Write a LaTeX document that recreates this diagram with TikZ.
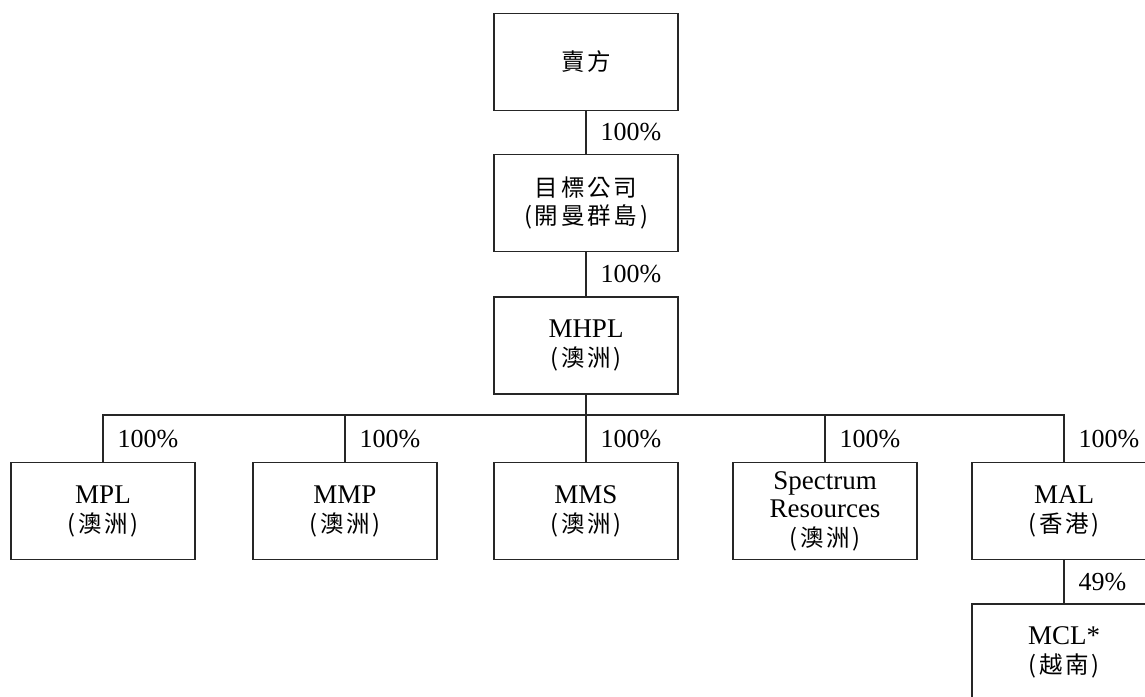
\documentclass[tikz,border=0pt]{standalone}
\usepackage{fontspec}
\setmainfont{Liberation Serif}
\newfontfamily\cjk[LetterSpace=12]{Noto Sans CJK TC}
\newcommand\zh[1]{{\cjk\fontsize{23.5}{28.5}\selectfont #1}}
\begin{document}
\begin{tikzpicture}[x=1pt,y=-1pt,
  box/.style={draw=black!85,line width=1.1pt,minimum width=184pt,minimum height=97pt,inner sep=0pt,align=center,
    font=\fontsize{27}{28.5}\selectfont},
  conn/.style={draw=black!85,line width=1.1pt},
  pct/.style={anchor=west,inner sep=0pt,xshift=14pt,font=\fontsize{26}{28.5}\selectfont}]
\useasboundingbox (0,0) rectangle (1145,696);
\clip (0,0) rectangle (1145,696);
\node[box] (seller) at (586,61.7) {\zh{賣方}};
\node[box] (target) at (586,202.7) {\zh{目標公司}\\\zh{(開曼群島)}};
\node[box] (mhpl) at (586,345.5) {MHPL\\\zh{(澳洲)}};
\node[box] (mpl) at (103,511.3) {MPL\\\zh{(澳洲)}};
\node[box] (mmp) at (345,511.3) {MMP\\\zh{(澳洲)}};
\node[box] (mms) at (586,511.3) {MMS\\\zh{(澳洲)}};
\node[box] (spec) at (825,511.3) {Spectrum\\Resources\\\zh{(澳洲)}};
\node[box] (mal) at (1064,511.3) {MAL\\\zh{(香港)}};
\node[box] (mcl) at (1064,652.5) {MCL*\\\zh{(越南)}};
\coordinate (bus) at (586,415);
\draw[conn] (seller.south) -- (target.north) node[pct,midway] {100\%};
\draw[conn] (target.south) -- (mhpl.north) node[pct,midway] {100\%};
\draw[conn] (mhpl.south) -- (bus);
\draw[conn] (mpl.north) |- (bus) -| (mal.north);
\draw[conn] (mpl.north|-bus) -- (mpl.north) node[pct,midway] {100\%};
\draw[conn] (mmp.north|-bus) -- (mmp.north) node[pct,midway] {100\%};
\draw[conn] (bus) -- (mms.north) node[pct,midway] {100\%};
\draw[conn] (spec.north|-bus) -- (spec.north) node[pct,midway] {100\%};
\draw[conn] (mal.north|-bus) -- (mal.north) node[pct,midway] {100\%};
\draw[conn] (mal.south) -- (mcl.north) node[pct,midway] {49\%};
\end{tikzpicture}
\end{document}
